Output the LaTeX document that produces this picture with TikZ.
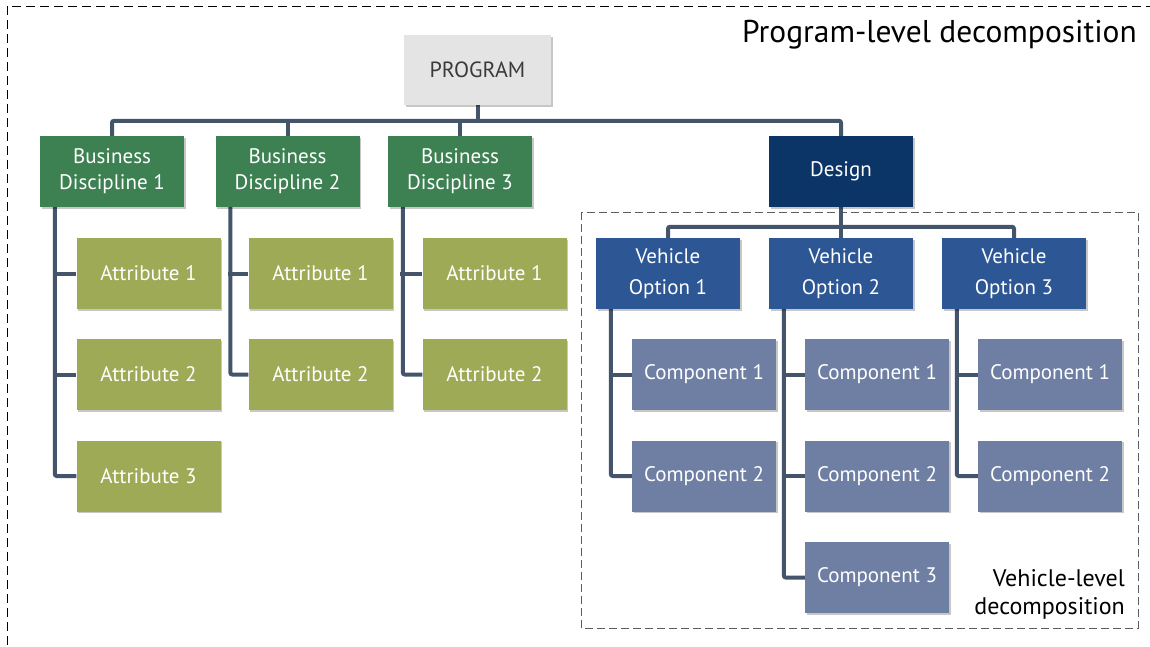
\documentclass[tikz,border=0pt]{standalone}
\usepackage{fontspec}
\setmainfont{PT Sans}
\usetikzlibrary{shadows,backgrounds}
\definecolor{progfill}{HTML}{E4E4E4}
\definecolor{progtext}{HTML}{3A3A3A}
\definecolor{bdgreen}{HTML}{3D8153}
\definecolor{attrgreen}{HTML}{9EAA55}
\definecolor{designblue}{HTML}{0B3567}
\definecolor{vehblue}{HTML}{2D5694}
\definecolor{compblue}{HTML}{6E7FA3}
\definecolor{connc}{HTML}{44546A}
\definecolor{framegray}{HTML}{5A5F66}
\begin{document}
\begin{tikzpicture}[x=1pt,y=-1pt,
  box/.style={minimum width=144pt, minimum height=71pt, inner sep=0pt, text=white, align=center,
    font=\fontsize{21}{26}\selectfont,
    drop shadow={shadow xshift=1.5pt, shadow yshift=-1.5pt, fill=black, opacity=0.22}},
  progbox/.style={box, fill=progfill, text=progtext, minimum width=147pt, minimum height=70pt, font=\fontsize{22}{26}\selectfont},
  bdbox/.style={box, fill=bdgreen},
  attrbox/.style={box, fill=attrgreen},
  desbox/.style={box, fill=designblue},
  vehbox/.style={box, fill=vehblue, font=\fontsize{21}{31}\selectfont},
  compbox/.style={box, fill=compblue},
  conn/.style={draw=connc, line width=4pt, rounded corners=2pt},
  outerframe/.style={draw=black, line width=0.9pt, dash pattern=on 9pt off 5pt},
  innerframe/.style={draw=framegray, line width=0.9pt, dash pattern=on 8pt off 4pt},
  label/.style={text=black, inner sep=0pt, align=right}
]
\clip (0,0) rectangle (1150,646);
\begin{pgfonlayer}{background}
\fill[white] (0,0) rectangle (1150,646);
\draw[outerframe] (7,6) rectangle (1170,670);
\draw[innerframe] (581,212) rectangle (1138,628);
\end{pgfonlayer}

\node[label, anchor=base east, font=\fontsize{31.5}{34}\selectfont] (title) at (1137,42) {Program-level decomposition};
\node[label, anchor=east, font=\fontsize{24}{28}\selectfont] (vtitle) at (1125,594) {Vehicle-level\\decomposition};

\node[progbox] (prog) at (477.5,70) {PROGRAM};
\node[bdbox] (bd1) at (112,171.5) {Business\\Discipline 1};
\node[bdbox] (bd2) at (287.5,171.5) {Business\\Discipline 2};
\node[bdbox] (bd3) at (460,171.5) {Business\\Discipline 3};
\node[desbox] (des) at (841,171.5) {Design};

\node[attrbox] (a11) at (148.5,273.5) {Attribute 1};
\node[attrbox] (a12) at (148.5,374.5) {Attribute 2};
\node[attrbox] (a13) at (148.5,476) {Attribute 3};
\node[attrbox] (a21) at (320.5,273.5) {Attribute 1};
\node[attrbox] (a22) at (320.5,374.5) {Attribute 2};
\node[attrbox] (a31) at (494.5,273.5) {Attribute 1};
\node[attrbox] (a32) at (494.5,374.5) {Attribute 2};

\node[vehbox] (v1) at (668,273.5) {Vehicle\\Option 1};
\node[vehbox] (v2) at (841,273.5) {Vehicle\\Option 2};
\node[vehbox] (v3) at (1014,273.5) {Vehicle\\Option 3};

\node[compbox] (c11) at (704,374.5) {Component 1};
\node[compbox] (c12) at (704,476) {Component 2};
\node[compbox] (c21) at (877,374.5) {Component 1};
\node[compbox] (c22) at (877,476) {Component 2};
\node[compbox] (c23) at (877,577.5) {Component 3};
\node[compbox] (c31) at (1050,374.5) {Component 1};
\node[compbox] (c32) at (1050,476) {Component 2};

\begin{pgfonlayer}{background}
% program level
\draw[conn] (prog.south) -- ++(0,16);
\draw[conn] (bd1.north) -- ++(0,-15) -| (des.north);
\draw[conn] (bd2.north) -- ++(0,-15);
\draw[conn] (bd3.north) -- ++(0,-15);

% attributes
\draw[conn] ([xshift=15pt]bd1.south west) |- (a13.west);
\draw[conn] (a11.west) -- ++(-23,0);
\draw[conn] (a12.west) -- ++(-23,0);
\draw[conn] ([xshift=15pt]bd2.south west) |- (a22.west);
\draw[conn] (a21.west) -- ++(-20,0);
\draw[conn] ([xshift=15pt]bd3.south west) |- (a32.west);
\draw[conn] (a31.west) -- ++(-22,0);

% vehicle level
\draw[conn] (des.south) -- (v2.north);
\draw[conn] (v1.north) -- ++(0,-11) -| (v3.north);
\draw[conn] ([xshift=15pt]v1.south west) |- (c12.west);
\draw[conn] (c11.west) -- ++(-22,0);
\draw[conn] ([xshift=15pt]v2.south west) |- (c23.west);
\draw[conn] (c21.west) -- ++(-22,0);
\draw[conn] (c22.west) -- ++(-22,0);
\draw[conn] ([xshift=15pt]v3.south west) |- (c32.west);
\draw[conn] (c31.west) -- ++(-22,0);
\end{pgfonlayer}
\end{tikzpicture}
\end{document}
